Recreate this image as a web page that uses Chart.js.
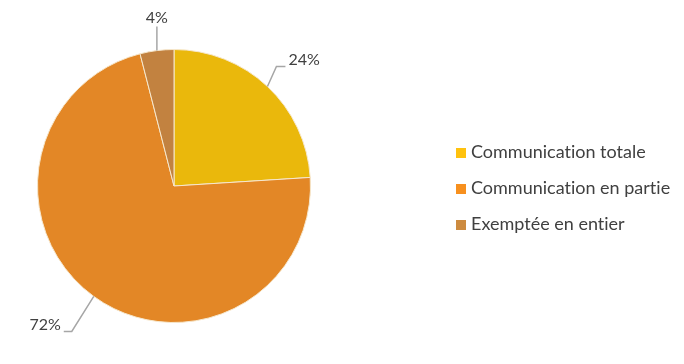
<!DOCTYPE html>
<html lang="fr">
<head>
<meta charset="UTF-8">
<title>Communication</title>
<style>
    html, body { margin: 0; padding: 0; background: #fff; }
    #wrap { position: relative; width: 684px; height: 364px; }
    #legend {
        position: absolute; left: 456px; top: 140px;
        font-family: Lato, "Open Sans", sans-serif; font-size: 18px; color: #404040;
        font-variant-ligatures: none;
    }
    .item { height: 36px; display: flex; align-items: flex-start; }
    .box { width: 10px; height: 10px; margin: 8px 5px 0 0; }
</style>
</head>
<body>
<div id="wrap">
    <canvas id="pie" width="684" height="364"></canvas>
    <div id="legend"></div>
</div>
<script src="https://cdn.jsdelivr.net/npm/chart.js"></script>
<script>
    // données
    var categories = ['Communication totale', 'Communication en partie', 'Exemptée en entier'];
    var shares = [24, 72, 4];
    var shareLabels = ['24%', '72%', '4%'];
    var sliceColors = ['#EAB80C', '#E38726', '#C28240'];
    var legendColors = ['#FFC20E', '#F7901E', '#CD8B3F'];

    // legende
    var legend = document.getElementById('legend');
    categories.forEach(function (c, i) {
        var row = document.createElement('div');
        row.className = 'item';
        row.innerHTML = '<span class="box" style="background:' + legendColors[i] + '"></span><span>' + c + '</span>';
        legend.appendChild(row);
    });

    // etiquettes avec lignes de rappel
    var leaderLabels = {
        id: 'leaderLabels',
        afterDatasetsDraw: function (chart, args, opts) {
            var ctx = chart.ctx;
            var arcs = chart.getDatasetMeta(0).data;
            ctx.save();
            ctx.font = '16px Lato, "Open Sans", sans-serif';
            ctx.fillStyle = '#404040';
            ctx.strokeStyle = '#A6A6A6';
            ctx.lineWidth = 1.5;
            arcs.forEach(function (arc, i) {
                var p = arc.getProps(['x', 'y', 'startAngle', 'endAngle', 'outerRadius'], true);
                var mid = (p.startAngle + p.endAngle) / 2;
                var sx = p.x + Math.cos(mid) * p.outerRadius;
                var sy = p.y + Math.sin(mid) * p.outerRadius;
                var l = opts.leaders[i];
                var ex = sx + l.dx, ey = sy + l.dy;
                var hx = ex + l.h;
                ctx.beginPath();
                ctx.moveTo(sx, sy);
                ctx.lineTo(ex, ey);
                ctx.lineTo(hx, ey);
                ctx.stroke();
                ctx.textBaseline = 'alphabetic';
                if (l.h > 0) {
                    ctx.textAlign = 'left';
                    ctx.fillText(shareLabels[i], hx + 3, ey - 1);
                } else if (l.h < 0) {
                    ctx.textAlign = 'right';
                    ctx.fillText(shareLabels[i], hx - 3, ey - 1);
                } else {
                    ctx.textAlign = 'center';
                    ctx.fillText(shareLabels[i], ex, ey - 4);
                }
            });
            ctx.restore();
        }
    };

    var pie = new Chart(document.getElementById('pie'), {
        type: 'pie',
        data: {
            labels: categories,
            datasets: [{
                data: shares,
                backgroundColor: sliceColors,
                borderColor: '#F6E7CC',
                borderWidth: 1
            }]
        },
        options: {
            responsive: false,
            animation: false,
            layout: { padding: { left: 37, right: 373, top: 49, bottom: 41 } },
            plugins: {
                legend: { display: false },
                tooltip: { enabled: false },
                leaderLabels: {
                    leaders: [
                        { dx: 9, dy: -20, h: 9 },
                        { dx: -22, dy: 35, h: -8 },
                        { dx: 0, dy: -24, h: 0 }
                    ]
                }
            }
        },
        plugins: [leaderLabels]
    });
</script>
</body>
</html>
